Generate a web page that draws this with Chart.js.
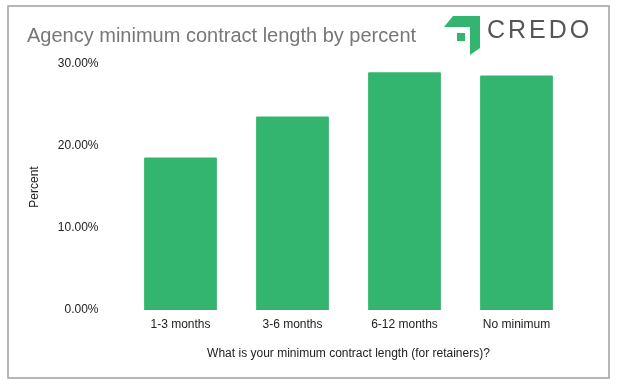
<!DOCTYPE html>
<html>
<head>
<meta charset="utf-8">
<script src="https://cdn.jsdelivr.net/npm/chart.js@4.4.1/dist/chart.umd.min.js"></script>
<style>
  html, body { margin: 0; padding: 0; background: #fff; }
  #wrap { position: relative; width: 621px; height: 386px; }
</style>
</head>
<body>
<div id="wrap"><canvas id="chart" width="621" height="386"></canvas></div>
<script>
// data
var categories = ['1-3 months', '3-6 months', '6-12 months', 'No minimum']
var percents = [18.6, 23.6, 29.0, 28.6]
var yTicks = [0, 10, 20, 30]

var green = '#33b56f'

// frame, title and logo drawn around the chart
var decor = {
  id: 'decor',
  beforeDraw: function (chart) {
    var ctx = chart.ctx
    ctx.save()
    ctx.fillStyle = '#fff'
    ctx.fillRect(0, 0, chart.width, chart.height)
    ctx.strokeStyle = '#9e9e9e'
    ctx.lineWidth = 1.5
    ctx.strokeRect(8, 6, 601, 372)
    ctx.restore()
  },
  afterDraw: function (chart) {
    var ctx = chart.ctx
    ctx.save()
    ctx.fillStyle = '#777'
    ctx.font = '20px "Liberation Sans", Arial, sans-serif'
    ctx.textBaseline = 'alphabetic'
    ctx.fillText('Agency minimum contract length by percent', 27, 42)

    // logo mark
    ctx.fillStyle = green
    ctx.beginPath()
    ctx.moveTo(453, 16)
    ctx.lineTo(480, 16)
    ctx.lineTo(480, 48)
    ctx.lineTo(470, 55)
    ctx.lineTo(470, 27)
    ctx.lineTo(444, 27)
    ctx.closePath()
    ctx.fill()
    ctx.fillRect(457, 33, 8, 8)

    ctx.fillStyle = '#555'
    ctx.font = '25px "Liberation Sans", Arial, sans-serif'
    if ('letterSpacing' in ctx) ctx.letterSpacing = '3px'
    ctx.fillText('CREDO', 487, 38)
    ctx.restore()
  }
}

new Chart(document.getElementById('chart'), {
  type: 'bar',
  data: {
    labels: categories,
    datasets: [{
      label: 'Percent',
      data: percents,
      backgroundColor: green,
      borderWidth: 0,
      borderRadius: 1,
      barPercentage: 0.65,
      categoryPercentage: 1
    }]
  },
  options: {
    responsive: false,
    animation: false,
    layout: { padding: { left: 0, right: 48.5, top: 64, bottom: 0 } },
    plugins: { legend: { display: false }, tooltip: { enabled: false } },
    scales: {
      x: {
        grid: { display: false, drawTicks: false },
        border: { display: false },
        ticks: { color: '#222', padding: 7, font: { family: '"Liberation Sans", Arial', size: 12 } },
        title: {
          display: true,
          text: 'What is your minimum contract length (for retainers)?',
          color: '#222',
          font: { family: '"Liberation Sans", Arial', size: 12 },
          padding: { top: 0, bottom: 25 }
        },
        afterFit: function (s) { s.height = 76 }
      },
      y: {
        min: 0,
        max: 30,
        afterBuildTicks: function (s) { s.ticks = yTicks.map(function (v) { return { value: v } }) },
        grid: { display: false, drawTicks: false },
        border: { display: false },
        ticks: {
          color: '#222',
          padding: 26,
          font: { family: '"Liberation Sans", Arial', size: 12 },
          callback: function (v) { return v.toFixed(2) + '%' }
        },
        title: {
          display: true,
          text: 'Percent',
          color: '#222',
          font: { family: '"Liberation Sans", Arial', size: 12 },
          padding: { top: 27.5, bottom: 0 }
        },
        afterFit: function (s) { s.width = 124.5 }
      }
    }
  },
  plugins: [decor]
})
</script>
</body>
</html>
